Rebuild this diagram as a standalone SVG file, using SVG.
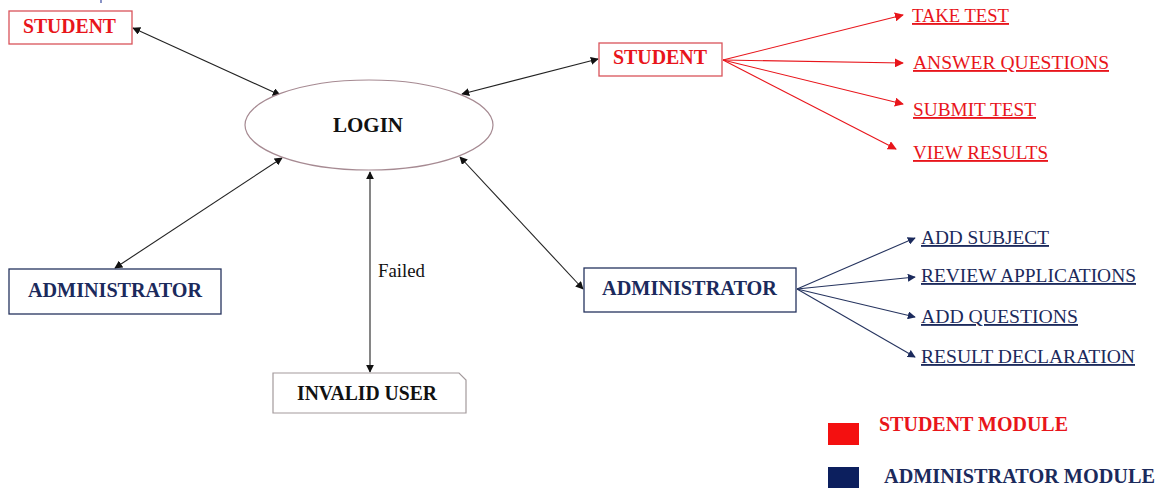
<svg xmlns="http://www.w3.org/2000/svg" width="1162" height="488" viewBox="0 0 1162 488">
  <defs>
    <style>
      .lbl { font-family: "Liberation Serif", "Times New Roman", serif; font-weight: bold; font-size: 20px; }
      .item { font-family: "Liberation Serif", "Times New Roman", serif; font-size: 18.5px; text-decoration: underline; }
      .note { font-family: "Liberation Serif", "Times New Roman", serif; font-size: 18.5px; }
      .red { fill: #e8151b; }
      .navy { fill: #1b2a5c; }
      .dark { fill: #111111; }
      .box-red { fill: #ffffff; stroke: #d9535a; stroke-width: 1.3; }
      .box-navy { fill: #ffffff; stroke: #26345f; stroke-width: 1.3; }
      .link { stroke: #222222; stroke-width: 1.1; fill: none; }
      .link-red { stroke: #e8151b; stroke-width: 1.1; fill: none; }
      .link-navy { stroke: #26345f; stroke-width: 1.1; fill: none; }
    </style>
    <marker id="ah-dark" viewBox="0 0 10 10" refX="9" refY="5" markerWidth="8" markerHeight="8" markerUnits="userSpaceOnUse" orient="auto-start-reverse">
      <path d="M0,0 L10,5 L0,10 z" fill="#111111"/>
    </marker>
    <marker id="ah-red" viewBox="0 0 10 10" refX="9" refY="5" markerWidth="9" markerHeight="9" markerUnits="userSpaceOnUse" orient="auto">
      <path d="M0,0 L10,5 L0,10 z" fill="#e8151b"/>
    </marker>
    <marker id="ah-navy" viewBox="0 0 10 10" refX="9" refY="5" markerWidth="8" markerHeight="8" markerUnits="userSpaceOnUse" orient="auto">
      <path d="M0,0 L10,5 L0,10 z" fill="#1b2a5c"/>
    </marker>
  </defs>

  <rect width="1162" height="488" fill="#ffffff"/>
  <line x1="101" y1="0" x2="101" y2="3" stroke="#3a4aa0" stroke-width="1.2"/>

  <!-- connectors -->
  <g id="connectors">
    <line class="link" x1="133" y1="28" x2="280" y2="95" marker-start="url(#ah-dark)" marker-end="url(#ah-dark)"/>
    <line class="link" x1="462" y1="94" x2="598" y2="59" marker-start="url(#ah-dark)" marker-end="url(#ah-dark)"/>
    <line class="link" x1="115" y1="268" x2="282" y2="158" marker-start="url(#ah-dark)" marker-end="url(#ah-dark)"/>
    <line class="link" x1="460" y1="157" x2="583" y2="289" marker-start="url(#ah-dark)" marker-end="url(#ah-dark)"/>
    <line class="link" x1="370" y1="172" x2="370" y2="372" marker-start="url(#ah-dark)" marker-end="url(#ah-dark)"/>
    <text x="378" y="277" class="note dark" textLength="47" lengthAdjust="spacingAndGlyphs">Failed</text>

    <line class="link-red" x1="723" y1="60" x2="903" y2="15" marker-end="url(#ah-red)"/>
    <line class="link-red" x1="723" y1="60" x2="903" y2="63" marker-end="url(#ah-red)"/>
    <line class="link-red" x1="723" y1="60" x2="903" y2="104" marker-end="url(#ah-red)"/>
    <line class="link-red" x1="723" y1="60" x2="896" y2="149" marker-end="url(#ah-red)"/>

    <line class="link-navy" x1="797" y1="289" x2="915" y2="238" marker-end="url(#ah-navy)"/>
    <line class="link-navy" x1="797" y1="289" x2="915" y2="277" marker-end="url(#ah-navy)"/>
    <line class="link-navy" x1="797" y1="289" x2="915" y2="317" marker-end="url(#ah-navy)"/>
    <line class="link-navy" x1="797" y1="289" x2="915" y2="357" marker-end="url(#ah-navy)"/>
  </g>

  <!-- login -->
  <g id="login">
    <ellipse cx="369" cy="125" rx="124" ry="45" fill="#ffffff" stroke="#a68a92" stroke-width="1.2"/>
    <text x="368" y="132" class="lbl dark" text-anchor="middle" textLength="70" lengthAdjust="spacingAndGlyphs">LOGIN</text>
  </g>

  <!-- student entry -->
  <g id="student-left">
    <rect class="box-red" x="9" y="11" width="123" height="33"/>
    <text x="23" y="33" class="lbl red" textLength="93" lengthAdjust="spacingAndGlyphs">STUDENT</text>
  </g>

  <g id="student-right">
    <rect class="box-red" x="599" y="43" width="123" height="33"/>
    <text x="613" y="64" class="lbl red" textLength="94" lengthAdjust="spacingAndGlyphs">STUDENT</text>
  </g>

  <g id="admin-left">
    <rect class="box-navy" x="9" y="269" width="212" height="45"/>
    <text x="28" y="297" class="lbl navy" textLength="174" lengthAdjust="spacingAndGlyphs">ADMINISTRATOR</text>
  </g>

  <g id="admin-right">
    <rect class="box-navy" x="584" y="268" width="212" height="44"/>
    <text x="602" y="295" class="lbl navy" textLength="175" lengthAdjust="spacingAndGlyphs">ADMINISTRATOR</text>
  </g>

  <g id="invalid-user">
    <path d="M273,373 L459,373 L466,380 L466,413 L273,413 z" fill="#ffffff" stroke="#a39a9c" stroke-width="1.2"/>
    <text x="297" y="400" class="lbl dark" textLength="140" lengthAdjust="spacingAndGlyphs">INVALID USER</text>
  </g>

  <!-- student actions -->
  <g id="student-actions">
    <text id="take-test" x="912" y="22" class="item red" textLength="97" lengthAdjust="spacingAndGlyphs">TAKE TEST</text>
    <text id="answer-questions" x="913" y="69" class="item red" textLength="196" lengthAdjust="spacingAndGlyphs">ANSWER QUESTIONS</text>
    <text id="submit-test" x="913" y="116" class="item red" textLength="123" lengthAdjust="spacingAndGlyphs">SUBMIT  TEST</text>
    <text id="view-results" x="913" y="159" class="item red" textLength="135" lengthAdjust="spacingAndGlyphs">VIEW RESULTS</text>
  </g>

  <!-- administrator actions -->
  <g id="admin-actions">
    <text id="add-subject" x="921" y="244" class="item navy" textLength="128" lengthAdjust="spacingAndGlyphs">ADD SUBJECT</text>
    <text id="review-applications" x="921" y="282" class="item navy" textLength="215" lengthAdjust="spacingAndGlyphs">REVIEW APPLICATIONS</text>
    <text id="add-questions" x="921" y="323" class="item navy" textLength="157" lengthAdjust="spacingAndGlyphs">ADD QUESTIONS</text>
    <text id="result-declaration" x="921" y="363" class="item navy" textLength="214" lengthAdjust="spacingAndGlyphs">RESULT DECLARATION</text>
  </g>

  <!-- legend -->
  <g id="legend">
    <rect x="828" y="423" width="31" height="22" fill="#f41010"/>
    <text x="879" y="431" class="lbl red" textLength="189" lengthAdjust="spacingAndGlyphs">STUDENT MODULE</text>
    <rect x="828" y="467" width="31" height="22" fill="#0c1f5e"/>
    <text x="884" y="483" class="lbl navy" textLength="271" lengthAdjust="spacingAndGlyphs">ADMINISTRATOR MODULE</text>
  </g>
</svg>
